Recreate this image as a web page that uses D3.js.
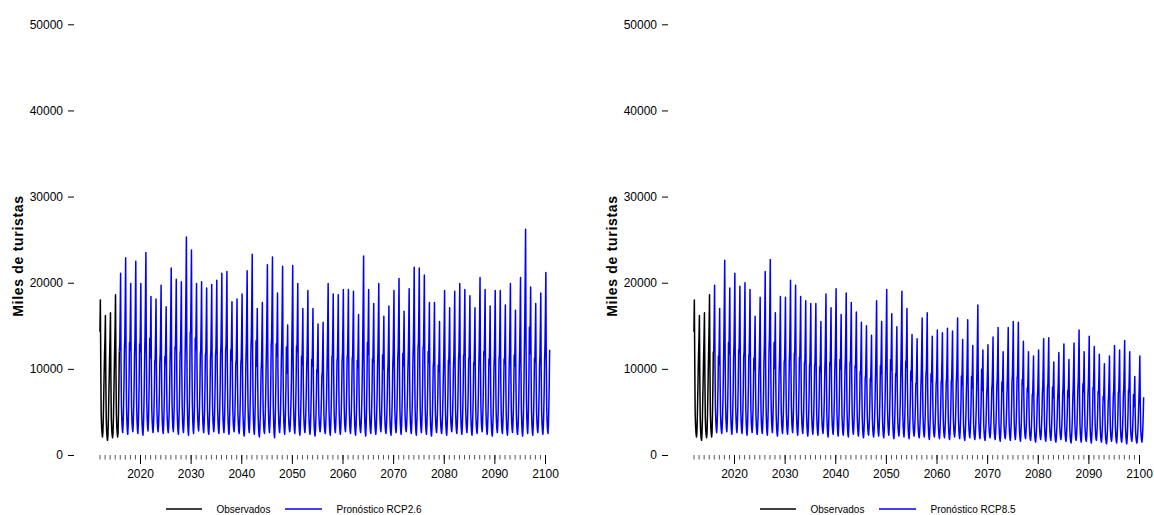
<!DOCTYPE html>
<html>
<head>
<meta charset="utf-8">
<script src="https://cdn.jsdelivr.net/npm/d3@7"></script>
<style>
body { margin: 0; background: #fff; }
text { font-family: "Liberation Sans", Arial, sans-serif; }
</style>
</head>
<body>
<svg id="chart" width="1154" height="515"></svg>
<script>
// values in thousands of tourists
// observed, monthly, Feb 2012 .. Dec 2015
var observed = [
	14.3, 18.0, 10.5, 4.8, 3.3, 2.5, 2.1, 2.6, 4.2, 6.8, 9.5,
	11.8, 13.5, 16.2, 8.8, 4.2, 2.7, 2.0, 1.7, 2.3, 4.0, 6.5, 9.0,
	11.5, 13.8, 16.5, 9.0, 4.3, 2.9, 2.3, 2.0, 2.5, 4.3, 7.0, 9.8,
	12.5, 15.0, 18.6, 10.0, 4.8, 3.2, 2.5, 2.1, 2.6, 4.8, 8.0, 12.0
]

var forecastYears = d3.range(2016, 2101)

// yearly peak and trough, RCP2.6
var peak26 = [
	21.1, 22.9, 19.9, 22.5, 19.9, 23.5, 18.4, 18.1, 19.7, 17.2,
	21.7, 20.4, 20.1, 25.3, 23.8, 19.9, 20.1, 19.4, 19.8, 20.3,
	21.1, 21.3, 17.8, 18.1, 18.7, 21.4, 23.3, 17.0, 17.7, 22.1,
	23.0, 18.8, 21.9, 15.1, 22.0, 19.9, 17.0, 19.1, 17.0, 15.2,
	15.4, 19.9, 18.7, 18.6, 19.2, 19.2, 19.0, 16.3, 23.1, 19.2,
	17.6, 19.9, 16.1, 17.3, 19.1, 20.5, 16.7, 19.3, 21.8, 21.7,
	20.9, 17.7, 17.7, 15.5, 19.1, 17.1, 19.0, 19.9, 19.2, 18.5,
	17.1, 20.6, 19.2, 17.3, 19.1, 19.1, 17.4, 19.9, 16.8, 20.6,
	26.2, 19.5, 17.6, 18.8, 21.2
]
var low26 = [
	2.6, 2.4, 2.7, 2.5, 2.3, 2.8, 2.6, 2.7, 2.5, 2.6,
	2.7, 2.4, 2.6, 2.3, 2.5, 2.8, 2.6, 2.4, 2.7, 2.5,
	2.6, 2.4, 2.7, 2.5, 2.2, 2.6, 2.4, 2.1, 2.5, 2.6,
	2.0, 2.6, 2.4, 2.7, 2.5, 2.3, 2.6, 2.4, 2.2, 2.7,
	2.5, 2.3, 2.6, 2.4, 2.7, 2.5, 2.3, 2.6, 2.2, 2.5,
	2.4, 2.7, 2.5, 2.3, 2.6, 2.4, 2.7, 2.5, 2.3, 2.6,
	2.4, 2.2, 2.6, 2.5, 2.3, 2.7, 2.5, 2.4, 2.6, 2.3,
	2.5, 2.7, 2.4, 2.2, 2.6, 2.5, 2.3, 2.6, 2.4, 2.2,
	2.5, 2.3, 2.6, 2.4, 2.5
]

// yearly peak and trough, RCP8.5
var peak85 = [
	19.7, 17.0, 22.6, 19.4, 21.1, 19.6, 20.0, 19.2, 16.1, 18.3,
	21.3, 22.7, 16.5, 18.4, 18.3, 20.3, 19.7, 18.4, 17.9, 17.6,
	17.6, 15.5, 18.7, 17.1, 19.3, 16.3, 18.8, 17.7, 16.6, 15.4,
	15.0, 13.9, 17.9, 15.5, 19.2, 16.4, 14.9, 19.0, 17.0, 14.0,
	13.5, 15.9, 16.5, 13.8, 14.5, 14.2, 14.7, 14.4, 15.9, 13.4,
	15.7, 12.7, 17.4, 12.2, 12.8, 13.7, 14.8, 12.0, 14.8, 15.5,
	15.4, 13.2, 12.0, 11.5, 12.2, 13.5, 13.6, 10.8, 11.9, 12.9,
	11.1, 13.0, 14.5, 12.0, 13.8, 12.6, 11.7, 10.6, 11.5, 12.7,
	12.2, 13.3, 12.0, 9.1, 11.5
]
var low85 = [
	2.6, 2.5, 2.7, 2.4, 2.6, 2.5, 2.3, 2.6, 2.4, 2.5,
	2.3, 2.6, 2.2, 2.5, 2.4, 2.6, 2.3, 2.5, 2.2, 2.4,
	2.3, 2.5, 2.1, 2.4, 2.2, 2.3, 2.1, 2.4, 2.2, 2.0,
	2.3, 2.1, 2.2, 2.0, 2.3, 1.9, 2.2, 2.1, 1.9, 2.2,
	2.0, 2.1, 1.8, 2.1, 1.9, 2.0, 1.8, 2.1, 1.9, 1.7,
	2.0, 1.8, 1.9, 1.7, 2.0, 1.8, 1.6, 1.9, 1.7, 1.8,
	1.6, 1.9, 1.7, 1.5, 1.8, 1.6, 1.7, 1.5, 1.8, 1.6,
	1.4, 1.7, 1.5, 1.6, 1.4, 1.7, 1.5, 1.3, 1.6, 1.4,
	1.5, 1.3, 1.6, 1.4, 1.5
]

// seasonal shape (share of the way from trough to peak), Jan..Dec
var season = [0.55, 0.75, 1, 0.45, 0.17, 0.07, 0.02, 0, 0.05, 0.15, 0.3, 0.52]

var yTicks = [0, 10000, 20000, 30000, 40000, 50000]
var xMajor = d3.range(2020, 2101, 10)
var xMinor = d3.range(2012, 2101, 1)

var panels = [
	{ name: "Pronóstico RCP2.6", peaks: peak26, lows: low26, dx: 0 },
	{ name: "Pronóstico RCP8.5", peaks: peak85, lows: low85, dx: 594 }
]

var svg = d3.select("#chart")

var obsPoints = observed.map(function(v, i) {
	return { t: 2012 + (i + 1) / 12, v: v * 1000 }
})

function forecastPoints(p) {
	var pts = [obsPoints[obsPoints.length - 1]]
	forecastYears.forEach(function(yr, k) {
		var hi = p.peaks[k], lo = p.lows[k]
		season.forEach(function(s, m) {
			pts.push({ t: yr + m / 12, v: (lo + s * (hi - lo)) * 1000 })
		})
	})
	return pts
}

panels.forEach(function(p) {
	var g = svg.append("g").attr("transform", "translate(" + p.dx + ",0)")

	var x = d3.scaleLinear().domain([2012, 2100]).range([99.5, 545])
	var y = d3.scaleLinear().domain([0, 50000]).range([455, 24.3])

	// y axis, ticks only
	var ya = g.append("g")
		.attr("transform", "translate(74,0)")
		.call(d3.axisLeft(y).tickValues(yTicks).tickSize(6).tickPadding(5).tickFormat(d3.format("d")))
	ya.select(".domain").remove()
	ya.selectAll("text").attr("font-size", 12).attr("fill", "#000").style("font-family", "'Liberation Sans', Arial, sans-serif")
	ya.selectAll("line").attr("stroke", "#000")

	// x axis: minor yearly ticks and labelled decades
	var xmin = g.append("g")
		.attr("transform", "translate(0,455)")
		.call(d3.axisBottom(x).tickValues(xMinor).tickSize(4.5).tickFormat(""))
	xmin.select(".domain").remove()
	xmin.selectAll("line").attr("stroke", "#555")

	var xa = g.append("g")
		.attr("transform", "translate(0,455)")
		.call(d3.axisBottom(x).tickValues(xMajor).tickSize(9).tickPadding(5).tickFormat(d3.format("d")))
	xa.select(".domain").remove()
	xa.selectAll("line").attr("stroke", "#000")
	xa.selectAll("text").attr("font-size", 12).attr("fill", "#000").style("font-family", "'Liberation Sans', Arial, sans-serif")

	g.append("text")
		.attr("transform", "translate(18,256) rotate(-90)")
		.attr("text-anchor", "middle")
		.attr("dy", "0.35em")
		.attr("font-size", 14)
		.attr("font-weight", "bold")
		.attr("letter-spacing", "0.7px")
		.text("Miles de turistas")

	var line = d3.line()
		.x(function(d) { return x(d.t) })
		.y(function(d) { return y(d.v) })
		.curve(d3.curveLinear)

	g.append("path")
		.datum(forecastPoints(p))
		.attr("d", line)
		.attr("fill", "none")
		.attr("stroke", "#0000ff")
		.attr("stroke-width", 1.5)
		.attr("stroke-linejoin", "round")

	g.append("path")
		.datum(obsPoints)
		.attr("d", line)
		.attr("fill", "none")
		.attr("stroke", "#000")
		.attr("stroke-width", 1.5)
		.attr("stroke-linejoin", "round")

	// legend
	var leg = [
		{ label: "Observados", color: "#000", x1: 166, x2: 202, tx: 216.5 },
		{ label: p.name, color: "#0000ff", x1: 285, x2: 322, tx: 336.5 }
	]
	leg.forEach(function(l) {
		g.append("line")
			.attr("x1", l.x1).attr("x2", l.x2)
			.attr("y1", 509).attr("y2", 509)
			.attr("stroke", l.color).attr("stroke-width", 1.5)
		g.append("text")
			.attr("x", l.tx).attr("y", 509)
			.attr("dy", "0.35em")
			.attr("font-size", 10)
			.text(l.label)
	})
})
</script>
</body>
</html>
